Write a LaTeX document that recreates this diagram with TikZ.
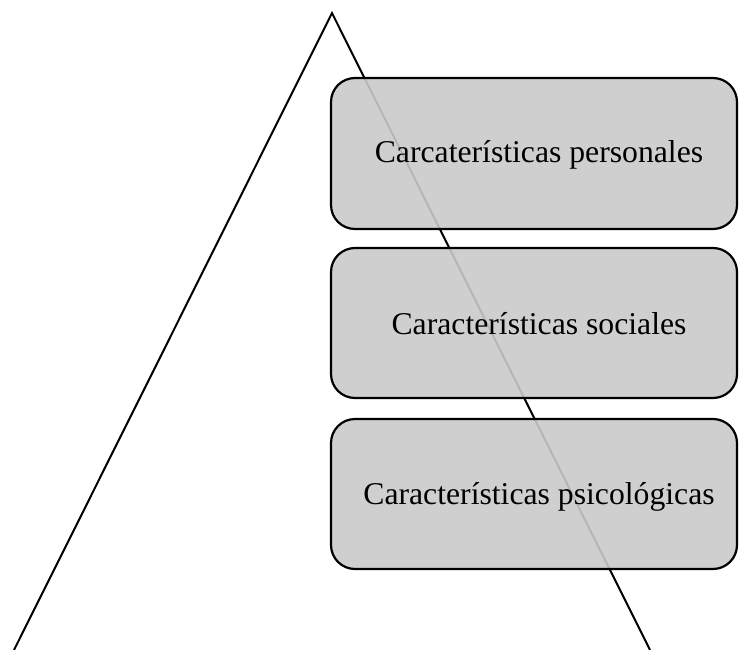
\documentclass[tikz,border=0pt]{standalone}
\usepackage{fontspec}
\setmainfont{Liberation Serif}
\begin{document}
\begin{tikzpicture}[x=1pt,y=-1pt,
  tri/.style={line width=2pt,line join=miter},
  box/.style={draw=black,line width=2.2pt,fill={rgb,255:red,202;green,202;blue,202},fill opacity=0.9,rounded corners=24pt},
  lbl/.style={font=\fontsize{31.7}{34}\selectfont,text=black,text opacity=1,anchor=base,inner sep=0pt}]
\useasboundingbox (0,0) rectangle (739,650);
\coordinate (apex) at (332,13);
\coordinate (bl) at (14,650);
\coordinate (br) at (650,650);
\draw[tri] (bl) -- (apex) -- (br);
\path[box] (331,78) rectangle (737,229);
\path[box] (331,248) rectangle (737,398);
\path[box] (331,419) rectangle (737,569);
\node[lbl] (b1) at (539,163) {Carcaterísticas personales};
\node[lbl] (b2) at (539,334) {Características sociales};
\node[lbl] (b3) at (539,504) {Características psicológicas};
\end{tikzpicture}
\end{document}
